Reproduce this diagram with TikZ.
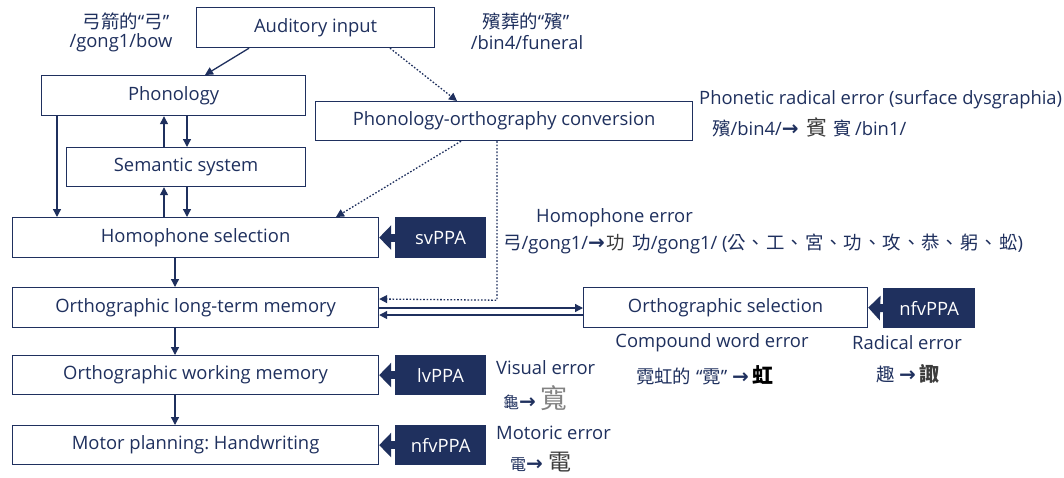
\documentclass[tikz,border=0pt]{standalone}
\usepackage{fontspec}
\setmainfont{Open Sans}
\newfontfamily\cjk{Noto Sans CJK TC}
\newfontfamily\djv{DejaVu Sans}
\newcommand{\rarr}{{\djv\bfseries\fontsize{20}{20}\selectfont →}}
\usetikzlibrary{arrows.meta,calc}
\definecolor{navy}{RGB}{31,48,94}
\definecolor{hand}{RGB}{60,60,60}
\definecolor{handlight}{RGB}{130,130,130}
\frenchspacing
\begin{document}
\begin{tikzpicture}[x=1pt,y=-1pt,
  font=\fontsize{18.4}{21}\selectfont, text=navy,
  box/.style={draw=navy, line width=1.2pt, fill=white, inner sep=0pt, anchor=north west, text=navy},
  dark/.style={draw=navy, line width=1.2pt, fill=navy, inner sep=0pt, anchor=north west, text=white},
  conn/.style={draw=navy, line width=1.3pt, -{Triangle[length=8pt,width=8pt]}},
  dconn/.style={draw=navy, line width=1.3pt, dash pattern=on 1.6pt off 1.8pt, -{Triangle[length=8pt,width=8pt]}},
  blockarrow/.style={draw=navy, line width=8pt, -{Triangle[length=12pt,width=24pt]}},
  lbl/.style={inner sep=0pt, text=navy},
]
\useasboundingbox (0,0) rectangle (1064,477);
\fill[white] (0,0) rectangle (1064,477);

% boxes
\node[box, minimum width=238pt, minimum height=40pt] (aud) at (196,7) {Auditory input};
\node[box, minimum width=264pt, minimum height=40pt] (phon) at (41,75) {Phonology};
\node[box, minimum width=377pt, minimum height=39pt] (poc) at (315,101) {Phonology-orthography conversion};
\node[box, minimum width=239pt, minimum height=39pt] (sem) at (66,147) {Semantic system};
\node[box, minimum width=366pt, minimum height=40pt] (hom) at (12,217) {Homophone selection};
\node[dark, minimum width=90pt, minimum height=40pt] (sv) at (395,217) {svPPA};
\node[box, minimum width=366pt, minimum height=40pt] (ltm) at (12,287) {Orthographic long-term memory};
\node[box, minimum width=284pt, minimum height=40pt] (osel) at (583,287) {Orthographic selection};
\node[dark, minimum width=91pt, minimum height=39pt] (nfvb) at (883,288) {nfvPPA};
\node[box, minimum width=366pt, minimum height=39pt] (owm) at (12,355) {Orthographic working memory};
\node[dark, minimum width=90pt, minimum height=39pt] (lv) at (395,355) {lvPPA};
\node[box, minimum width=366pt, minimum height=39pt] (mot) at (12,425) {Motor planning: Handwriting};
\node[dark, minimum width=90pt, minimum height=39pt] (nfva) at (395,425) {nfvPPA};

% solid connectors
\draw[conn] ($(aud.south west)+(53,0)$) -- ($(phon.north west)+(164,0)$);
\draw[conn] ($(sem.north west)+(98,0)$) -- ($(phon.south west)+(123,0)$);
\draw[conn] ($(phon.south west)+(146,0)$) -- ($(sem.north west)+(121,0)$);
\draw[conn] ($(hom.north west)+(152,0)$) -- ($(sem.south west)+(98,0)$);
\draw[conn] ($(sem.south west)+(121,0)$) -- ($(hom.north west)+(175,0)$);
\draw[conn] ($(phon.south west)+(16,0)$) -- ($(hom.north west)+(45,0)$);
\draw[conn] ($(hom.south west)+(163,0)$) -- ($(ltm.north west)+(163,0)$);
\draw[conn] ($(ltm.south west)+(163,0)$) -- ($(owm.north west)+(163,0)$);
\draw[conn] ($(owm.south west)+(163,0)$) -- ($(mot.north west)+(163,0)$);
\draw[conn] ($(ltm.north east)+(0,21)$) -- ($(osel.north west)+(0,21)$);
\draw[conn] ($(osel.north west)+(0,28)$) -- ($(ltm.north east)+(0,28)$);

% dotted connectors
\draw[dconn] ($(aud.south west)+(194,0)$) -- ($(poc.north west)+(142,0)$);
\draw[dconn] ($(poc.south west)+(146,0)$) -- ($(hom.north west)+(324,0)$);
\coordinate (bend) at ($(poc.south west)+(182,159)$);
\draw[dconn] ($(poc.south west)+(182,0)$) -- (bend) -- ($(ltm.north east)+(0,12)$);

% block arrows
\draw[blockarrow] (sv.west) -- (hom.east);
\draw[blockarrow] (lv.west) -- (owm.east);
\draw[blockarrow] (nfva.west) -- (mot.east);
\draw[blockarrow] (nfvb.west) -- (osel.east);

% labels
\node[lbl] (l1) at (126,21) {{\cjk 弓箭的}“{\cjk 弓}”};
\node[lbl] (l2) at (121,43) {/gong1/bow};
\node[lbl] (l3) at (526,21) {{\cjk 殯葬的}“{\cjk 殯}”};
\node[lbl] (l4) at (527,43) {/bin4/funeral};

\node[lbl, anchor=west] (pr) at (699,100) {Phonetic radical error (surface dysgraphia)};
\node[lbl, anchor=west] (pr2) at (712,127) {{\cjk 殯}/bin4/\rarr\hspace{8pt}{\cjk\color{hand}\fontsize{21}{22}\selectfont 賓}\hspace{6pt}{\cjk 賓}\hspace{3pt}/bin1/};

\node[lbl, anchor=west] (he) at (536,218) {Homophone error};
\node[lbl, anchor=west] (he2) at (503,244) {{\cjk 弓}/gong1/\rarr\hspace{2pt}{\cjk\color{hand} 功}\hspace{7pt}{\cjk 功}/gong1/ ({\cjk 公\hspace{1pt}、\hspace{1pt}工\hspace{1pt}、\hspace{1pt}宮\hspace{1pt}、\hspace{1pt}功\hspace{1pt}、\hspace{1pt}攻\hspace{1pt}、\hspace{1pt}恭\hspace{1pt}、\hspace{1pt}躬\hspace{1pt}、\hspace{1pt}蚣})};

\node[lbl] (cw) at (712,343) {Compound word error};
\node[lbl] (cw2) at (705,375) {{\cjk 霓虹的} “{\cjk 霓}” \rarr\hspace{4pt}{\cjk\bfseries\color{black}\fontsize{21}{22}\selectfont 虹}};
\node[lbl] (re) at (907,343) {Radical error};
\node[lbl] (re2) at (908,374) {{\cjk 趣} \rarr\hspace{4pt}{\cjk\bfseries\color{hand}\fontsize{20}{22}\selectfont 諏}};

\node[lbl, anchor=west] (ve) at (496,368) {Visual error};
\node[lbl, anchor=west] (ve2) at (503,398) {{\cjk\fontsize{16}{18}\selectfont 龜}\rarr\hspace{5pt}{\cjk\color{handlight}\fontsize{27}{28}\selectfont 寬}};
\node[lbl, anchor=west] (me) at (496,433) {Motoric error};
\node[lbl, anchor=west] (me2) at (510,462) {{\cjk\fontsize{16}{18}\selectfont 電}\rarr\hspace{6pt}{\cjk\color{hand}\fontsize{23}{24}\selectfont 電}};
\end{tikzpicture}
\end{document}
